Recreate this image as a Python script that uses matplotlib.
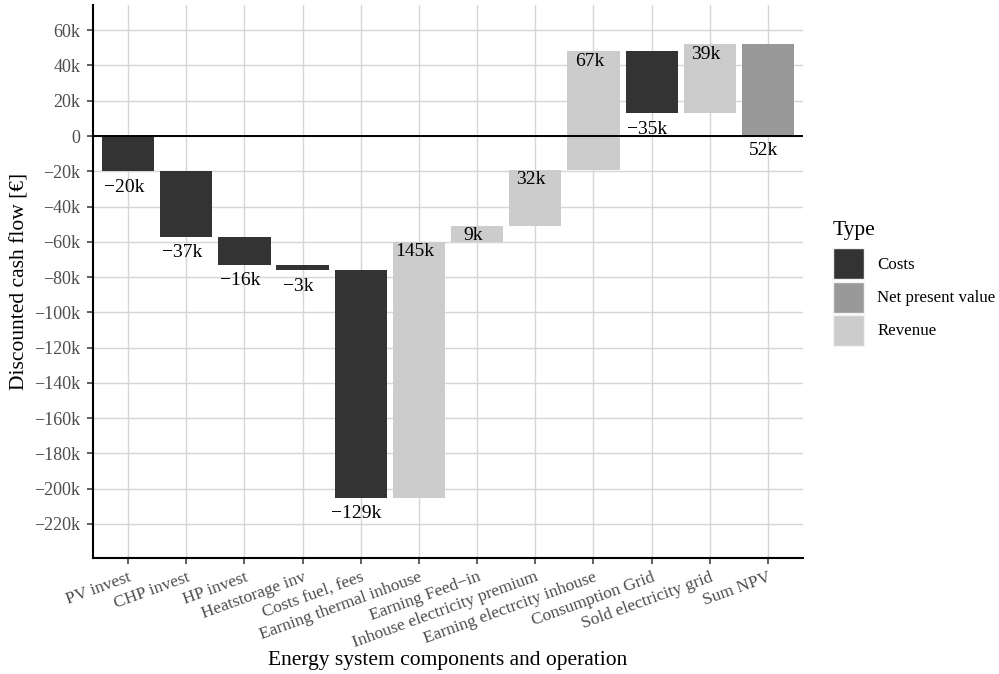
import matplotlib
matplotlib.use("Agg")
import matplotlib.pyplot as plt
from matplotlib.patches import Patch
import numpy as np

categories = ["PV invest", "CHP invest", "HP invest", "Heatstorage inv", "Costs fuel, fees",
              "Earning thermal inhouse", "Earning Feed\u2212in", "Inhouse electricity premium",
              "Earning electrcity inhouse", "Consumption Grid", "Sold electricity grid", "Sum NPV"]
amounts_k = [-20, -37, -16, -3, -129, 145, 9, 32, 67, -35, 39, 52]
types = ["Costs", "Costs", "Costs", "Costs", "Costs", "Revenue", "Revenue", "Revenue",
         "Revenue", "Costs", "Revenue", "Net present value"]
y_ticks_k = [60, 40, 20, 0, -20, -40, -60, -80, -100, -120, -140, -160, -180, -200, -220]

colors = {"Costs": "#333333", "Net present value": "#999999", "Revenue": "#cccccc"}

plt.rcParams['font.family'] = ['Liberation Serif', 'DejaVu Serif']

fig = plt.figure(figsize=(9.99, 6.74), dpi=100)
ax = fig.add_axes([93/999, 1-558/674, 710/999, 553/674])

n = len(categories)
x = np.arange(1, n + 1)
starts, ends = [], []
cum = 0.0
for i, a in enumerate(amounts_k):
    if types[i] == "Net present value":
        s, e = 0.0, a
    else:
        s, e = cum, cum + a
        cum = e
    starts.append(s)
    ends.append(e)
starts = np.array(starts) * 1000
ends = np.array(ends) * 1000

ax.set_axisbelow(True)
ax.grid(True, color="#d6d6d6", linewidth=1.0)
ax.bar(x, ends - starts, bottom=starts, width=0.9,
       color=[colors[t] for t in types], zorder=2)
ax.axhline(0, color="black", linewidth=1.4, zorder=3)

for i in range(n):
    if types[i] == "Net present value":
        ly, dy = 0, -4
    elif amounts_k[i] < 0:
        ly, dy = ends[i], -5.5
    else:
        ly, dy = ends[i], -1
    lab = f"{amounts_k[i]}k".replace("-", "\u2212")
    ax.annotate(lab, (x[i], ly), xytext=(-3, dy), textcoords="offset points",
                ha="center", va="top", fontsize=14, color="black", zorder=4)

ax.set_xlim(0.4, n + 0.6)
ax.set_ylim(-239300, 74300)
ax.set_yticks(np.array(y_ticks_k) * 1000)
ax.set_yticklabels([("0" if v == 0 else f"{v}k").replace("-", "\u2212") for v in y_ticks_k],
                   color="#4d4d4d", fontsize=13)
ax.set_xticks(x)
ax.set_xticklabels(categories, rotation=20, ha="right", rotation_mode="anchor",
                   color="#4d4d4d", fontsize=12.5)

for side in ["top", "right"]:
    ax.spines[side].set_visible(False)
for side in ["left", "bottom"]:
    ax.spines[side].set_linewidth(1.5)
    ax.spines[side].set_color("black")
ax.tick_params(axis="both", direction="out", length=4, width=1.1, color="#333333")
ax.tick_params(axis="y", pad=5)
ax.tick_params(axis="x", pad=4)

ax.set_ylabel("Discounted cash flow [\u20ac]", fontsize=15.5, va="center")
ax.yaxis.set_label_coords((20 - 93) / 710, 0.5)
ax.set_xlabel("Energy system components and operation", fontsize=15.5, va="center")
ax.xaxis.set_label_coords(0.5, -(661 - 558) / 553)

handles = [Patch(facecolor=colors[k], edgecolor="#f2f2f2", linewidth=1.0, label=k)
           for k in ["Costs", "Net present value", "Revenue"]]
leg = fig.legend(handles=handles, title="Type", loc="upper left",
                 bbox_to_anchor=(833/999, 1-221/674), frameon=False,
                 fontsize=12.2, title_fontsize=15.5, handlelength=1.85, handleheight=2.45,
                 labelspacing=0.12, handletextpad=0.75, borderaxespad=0, borderpad=0)
leg._legend_box.align = "left"
leg._legend_box.sep = 6

fig.savefig("out.png", dpi=100)
